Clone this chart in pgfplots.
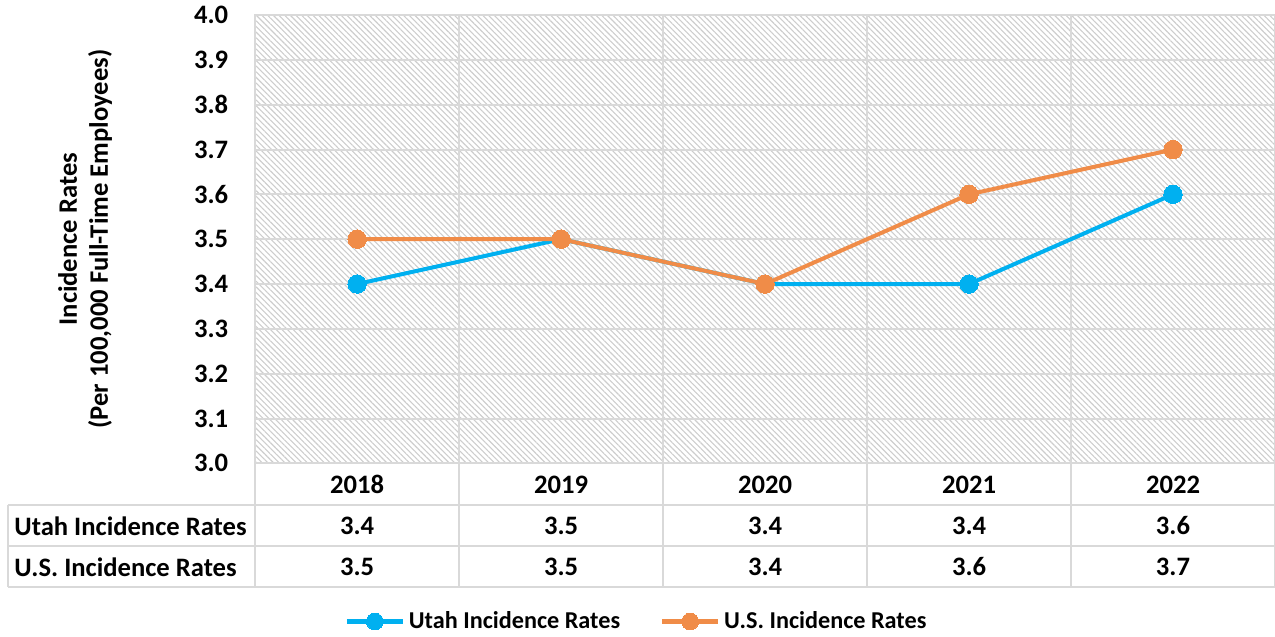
\documentclass[border=0pt]{standalone}
\usepackage{pgfplots}
\pgfplotsset{compat=1.18}
\usepackage{fontspec}
\setmainfont{Carlito}
\usetikzlibrary{patterns.meta}
\definecolor{utah}{RGB}{0,176,240}
\definecolor{us}{RGB}{240,140,72}
\definecolor{gridc}{RGB}{217,217,217}
\definecolor{hatch}{RGB}{205,205,205}
\newcommand{\tf}{\bfseries\fontsize{13.3}{15.5}\selectfont}
\begin{document}
\begin{tikzpicture}
\useasboundingbox (-127.5pt,-86.5pt) rectangle (509.5pt,231.5pt);
\begin{axis}[
  at={(0,0)}, anchor=south west,
  scale only axis, width=509.5pt, height=224pt,
  xmin=-0.5, xmax=4.5, ymin=3.0, ymax=4.0,
  xtick={0,1,2,3,4},
  xticklabels={2018,2019,2020,2021,2022},
  minor xtick={-0.5,0.5,1.5,2.5,3.5,4.5},
  xminorgrids=true, xmajorgrids=false,
  ytick={3.0,3.1,3.2,3.3,3.4,3.5,3.6,3.7,3.8,3.9,4.0},
  ymajorgrids=true,
  major tick length=0pt, minor tick length=0pt,
  grid style={gridc, line width=1pt},
  minor grid style={gridc, line width=1pt},
  axis line style={gridc, line width=1pt},
  /pgf/number format/assume math mode=true,
  yticklabel={\pgfmathprintnumber[fixed,fixed zerofill,precision=1]{\tick}},
  tick label style={font=\tf, text=black},
  yticklabel style={anchor=east, xshift=-10pt},
  xticklabel style={anchor=center, yshift=-10.5pt},
  axis background/.style={pattern={Lines[angle=-45,distance=2pt,line width=0.55pt]}, pattern color=hatch},
  clip=false,
  legend columns=2,
  legend style={at={(axis description cs:0.375,-0.3527)}, anchor=center, draw=none, fill=none,
    font=\bfseries\fontsize{12.1}{14}\selectfont, /tikz/every even column/.append style={column sep=18pt}},
  legend image code/.code={\draw[#1,mark repeat=2,mark phase=2,mark size=4.2pt] plot coordinates {(0pt,0pt)(14pt,0pt)(28pt,0pt)};},
]
\addplot[utah, line width=2pt, mark=*, mark size=4.6pt, mark options={fill=utah, draw=utah, line width=0pt}]
  coordinates {(0,3.4) (1,3.5) (2,3.4) (3,3.4) (4,3.6)};
\addlegendentry{Utah Incidence Rates}
\addplot[us, line width=2pt, mark=*, mark size=4.6pt, mark options={fill=us, draw=us, line width=0pt}]
  coordinates {(0,3.5) (1,3.5) (2,3.4) (3,3.6) (4,3.7)};
\addlegendentry{U.S. Incidence Rates}
% table lines
\draw[gridc, line width=1pt] ([yshift=-21pt]axis description cs:0,0) -- ([yshift=-21pt]axis description cs:1,0);
\draw[gridc, line width=1pt] ([xshift=-123.5pt,yshift=-21pt]axis description cs:0,0) -- ([yshift=-21pt]axis description cs:0,0);
\draw[gridc, line width=1pt] ([xshift=-123.5pt,yshift=-21pt]axis description cs:0,0) -- ([xshift=-123.5pt,yshift=-62pt]axis description cs:0,0);
\draw[gridc, line width=1pt] ([xshift=-123.5pt,yshift=-41.5pt]axis description cs:0,0) -- ([yshift=-41.5pt]axis description cs:1,0);
\draw[gridc, line width=1pt] ([xshift=-123.5pt,yshift=-62pt]axis description cs:0,0) -- ([yshift=-62pt]axis description cs:1,0);
\pgfplotsinvokeforeach{-0.5,0.5,1.5,2.5,3.5,4.5}{
  \draw[gridc, line width=1pt] (axis cs:#1,3.0) -- ([yshift=-62pt]axis cs:#1,3.0);
}
% row headers
\node[anchor=west, font=\tf, inner sep=0pt] at ([xshift=-120.5pt,yshift=-31.25pt]axis description cs:0,0) {Utah Incidence Rates};
\node[anchor=west, font=\tf, inner sep=0pt] at ([xshift=-120.5pt,yshift=-51.75pt]axis description cs:0,0) {U.S. Incidence Rates};
% row values
\node[font=\tf] at ([yshift=-31.25pt]axis cs:0,3.0) {3.4};
\node[font=\tf] at ([yshift=-31.25pt]axis cs:1,3.0) {3.5};
\node[font=\tf] at ([yshift=-31.25pt]axis cs:2,3.0) {3.4};
\node[font=\tf] at ([yshift=-31.25pt]axis cs:3,3.0) {3.4};
\node[font=\tf] at ([yshift=-31.25pt]axis cs:4,3.0) {3.6};
\node[font=\tf] at ([yshift=-51.75pt]axis cs:0,3.0) {3.5};
\node[font=\tf] at ([yshift=-51.75pt]axis cs:1,3.0) {3.5};
\node[font=\tf] at ([yshift=-51.75pt]axis cs:2,3.0) {3.4};
\node[font=\tf] at ([yshift=-51.75pt]axis cs:3,3.0) {3.6};
\node[font=\tf] at ([yshift=-51.75pt]axis cs:4,3.0) {3.7};
% y label
\node[rotate=90, align=center, font=\tf, inner sep=0pt] at ([xshift=-85pt]axis description cs:0,0.5)
  {Incidence Rates\\(Per 100,000 Full-Time Employees)};
\end{axis}
\end{tikzpicture}
\end{document}
